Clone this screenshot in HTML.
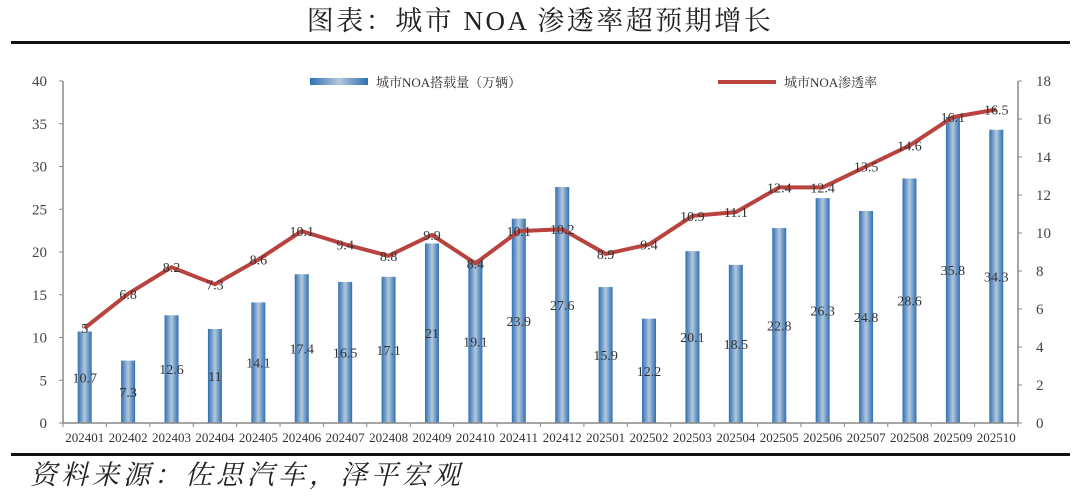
<!DOCTYPE html>
<html><head><meta charset="utf-8">
<style>
body{margin:0;width:1080px;height:499px;background:#fff;overflow:hidden;font-family:"Liberation Serif","Noto Serif CJK SC",serif;}
svg{position:absolute;left:0;top:0}
</style></head><body>
<svg id="c" width="1080" height="499">
<defs>
<linearGradient id="bg" x1="0" x2="1" y1="0" y2="0">
<stop offset="0" stop-color="#2f6fb3"/><stop offset="0.5" stop-color="#b3c8dc"/><stop offset="1" stop-color="#2f6fb3"/>
</linearGradient>
</defs>
<text x="540" y="30" text-anchor="middle" font-size="27" letter-spacing="2.5" fill="#222" font-family="Liberation Serif,Noto Serif CJK SC,serif">图表：城市 NOA 渗透率超预期增长</text>
<rect x="11" y="41" width="1059" height="3" fill="#111"/>
<rect x="11" y="453" width="1059" height="3" fill="#111"/>
<text x="30" y="484" font-size="27" letter-spacing="4" font-style="italic" fill="#222" font-family="Noto Serif CJK SC,serif">资料来源：佐思汽车，泽平宏观</text>
<g id="g"></g>
</svg>
<script>
const categories=["202401","202402","202403","202404","202405","202406","202407","202408","202409","202410","202411","202412","202501","202502","202503","202504","202505","202506","202507","202508","202509","202510"];
const barValues=[10.7,7.3,12.6,11,14.1,17.4,16.5,17.1,21,19.1,23.9,27.6,15.9,12.2,20.1,18.5,22.8,26.3,24.8,28.6,35.8,34.3];
const lineValues=[5,6.8,8.2,7.3,8.6,10.1,9.4,8.8,9.9,8.4,10.1,10.2,8.9,9.4,10.9,11.1,12.4,12.4,13.5,14.6,16.1,16.5];
const leftTicks=[0,5,10,15,20,25,30,35,40];
const rightTicks=[0,2,4,6,8,10,12,14,16,18];
const NS="http://www.w3.org/2000/svg";
const g=document.getElementById("g");
const X0=63,X1=1018,Y0=423,Y1=81;
const step=(X1-X0)/categories.length;
const xc=i=>X0+step*(i+0.5);
const yl=v=>Y0-(v/40)*(Y0-Y1);
const yr=v=>Y0-(v/18)*(Y0-Y1);
function el(t,a,txt){const e=document.createElementNS(NS,t);for(const k in a)e.setAttribute(k,a[k]);if(txt!==undefined)e.textContent=txt;g.appendChild(e);return e;}
barValues.forEach((v,i)=>{
 const r=el("rect",{x:xc(i)-7,y:yl(v),width:14,height:Y0-yl(v),fill:"url(#bg)"});
 
 
});
let a=el("line",{x1:X0,y1:Y1,x2:X0,y2:Y0,stroke:"#888","stroke-width":1.5});

a=el("line",{x1:X1,y1:Y1,x2:X1,y2:Y0,stroke:"#888","stroke-width":1.5});

a=el("line",{x1:X0,y1:Y0,x2:X1,y2:Y0,stroke:"#888","stroke-width":1.5});

leftTicks.forEach(v=>{
 el("line",{x1:X0-4,y1:yl(v),x2:X0,y2:yl(v),stroke:"#888"});
 const t=el("text",{x:X0-16,y:yl(v)+5,"text-anchor":"end","font-size":15,fill:"#444"},v);
 
});
rightTicks.forEach(v=>{
 el("line",{x1:X1,y1:yr(v),x2:X1+4,y2:yr(v),stroke:"#888"});
 const t=el("text",{x:X1+18,y:yr(v)+5,"text-anchor":"start","font-size":15,fill:"#444"},v);
 
});
categories.forEach((c,i)=>{
 el("line",{x1:X0+step*i,y1:Y0,x2:X0+step*i,y2:Y0+4,stroke:"#888"});
 const t=el("text",{x:xc(i),y:442,"text-anchor":"middle","font-size":13,fill:"#333"},c);
 
});
el("line",{x1:X1,y1:Y0,x2:X1,y2:Y0+4,stroke:"#888"});
barValues.forEach((v,i)=>{
 const t=el("text",{x:xc(i),y:(yl(v)+Y0)/2+5,"text-anchor":"middle","font-size":14,fill:"#333"},v);
 
});
const p=el("polyline",{points:lineValues.map((v,i)=>xc(i)+","+yr(v)).join(" "),fill:"none",stroke:"#b8433f","stroke-width":4,"stroke-linejoin":"round"});

lineValues.forEach((v,i)=>{
 const t=el("text",{x:xc(i),y:yr(v)+5,"text-anchor":"middle","font-size":14,fill:"#333"},v);
 
});
let l=el("rect",{x:310,y:78,width:58,height:7,fill:"url(#bg)"});

l=el("text",{x:376,y:87,"font-size":13,fill:"#333","font-family":"Liberation Serif,Noto Serif CJK SC,serif"},"城市NOA搭载量（万辆）");

l=el("line",{x1:718,y1:82,x2:776,y2:82,stroke:"#b8433f","stroke-width":4});

l=el("text",{x:784,y:87,"font-size":13,fill:"#333","font-family":"Liberation Serif,Noto Serif CJK SC,serif"},"城市NOA渗透率");

</script>
</body></html>
